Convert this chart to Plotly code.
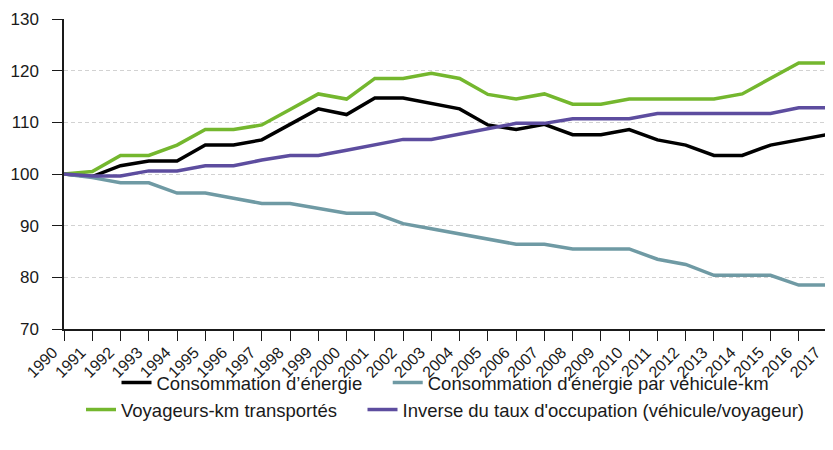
import plotly.graph_objects as go

years = list(range(1990, 2018))

conso_energie = [100, 99.5, 101.6, 102.5, 102.5, 105.6, 105.6, 106.6, 109.6, 112.6,
                 111.5, 114.7, 114.7, 113.7, 112.6, 109.5, 108.6, 109.6, 107.6, 107.6,
                 108.6, 106.6, 105.6, 103.6, 103.6, 105.6, 106.6, 107.6]
conso_par_vkm = [100, 99.3, 98.3, 98.3, 96.3, 96.3, 95.3, 94.3, 94.3, 93.4,
                 92.4, 92.4, 90.4, 89.4, 88.4, 87.4, 86.4, 86.4, 85.5, 85.5,
                 85.5, 83.5, 82.5, 80.4, 80.4, 80.4, 78.5, 78.5]
voyageurs_km = [100, 100.5, 103.6, 103.6, 105.6, 108.6, 108.6, 109.5, 112.5, 115.5,
                114.5, 118.5, 118.5, 119.5, 118.5, 115.4, 114.5, 115.5, 113.5, 113.5,
                114.5, 114.5, 114.5, 114.5, 115.5, 118.5, 121.5, 121.5]
inverse_taux = [100, 99.6, 99.6, 100.6, 100.6, 101.6, 101.6, 102.7, 103.6, 103.6,
                104.6, 105.6, 106.7, 106.7, 107.7, 108.8, 109.8, 109.8, 110.7, 110.7,
                110.7, 111.7, 111.7, 111.7, 111.7, 111.7, 112.8, 112.8]
year_labels = [str(y) for y in years]

names = ["Consommation d\u2019énergie",
         "Consommation d'énergie par véhicule-km",
         "Voyageurs-km transportés",
         "Inverse du taux d'occupation (véhicule/voyageur)"]
colors = ["#000000", "#6f9aa4", "#74b72e", "#5d4d9f"]
series = [conso_energie, conso_par_vkm, voyageurs_km, inverse_taux]
legends = ["legend", "legend", "legend2", "legend2"]

pad = "\u00a0" * 4  # extra spacing after the first entry of each legend row

fig = go.Figure()
for i in range(4):
    label = names[i] + (pad if i in (0, 2) else "")
    fig.add_trace(go.Scatter(
        x=years, y=series[i], mode="lines", name=label,
        line=dict(color=colors[i], width=3.5),
        legend=legends[i],
    ))

font_family = "Liberation Sans, Arial, sans-serif"
txt = "#1a1a1a"
# page body has an 8px margin: figure is sized/offset to compensate
fig.update_layout(
    width=825, height=442,
    margin=dict(l=56, r=6, t=11, b=121, autoexpand=False),
    plot_bgcolor="white", paper_bgcolor="white",
    font=dict(family=font_family, size=16, color=txt),
    xaxis=dict(
        range=[1990 - 1e-6, 2017 + 1e-6], tickmode="array", tickvals=years,
        ticktext=year_labels, tickangle=-45, automargin=False,
        ticklabeloverflow="allow", ticklabelshift=-11, ticklabelstandoff=-4,
        ticks="outside", ticklen=10, tickcolor=txt, tickwidth=1,
        showline=True, linecolor=txt, linewidth=1.5,
        showgrid=False, zeroline=False, tickfont=dict(size=16),
    ),
    yaxis=dict(
        range=[70, 130], dtick=10, tick0=70, automargin=False,
        ticklabelstandoff=10,
        ticks="outside", ticklen=10, tickcolor=txt, tickwidth=1,
        showline=True, linecolor=txt, linewidth=1.5,
        showgrid=True, gridcolor="#d2d2d2", griddash="4px,3px", gridwidth=1,
        zeroline=False, tickfont=dict(size=17),
    ),
    legend=dict(orientation="h", x=0.5, xanchor="center", xref="paper",
                y=0.1516, yanchor="middle", yref="container",
                font=dict(size=18.5), itemwidth=30, tracegroupgap=0,
                bgcolor="rgba(0,0,0,0)"),
    legend2=dict(orientation="h", x=0.5, xanchor="center", xref="paper",
                 y=0.0905, yanchor="middle", yref="container",
                 font=dict(size=18.5), itemwidth=30, tracegroupgap=0,
                 bgcolor="rgba(0,0,0,0)"),
    showlegend=True,
)

fig.write_html("out.html")
